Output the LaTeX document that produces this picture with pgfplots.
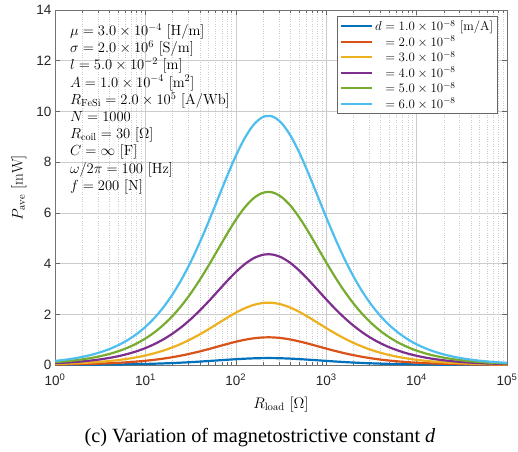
\RequirePackage{fix-cm}
\documentclass[border=0pt]{standalone}
\usepackage{fontspec}
\usepackage{pgfplots}
\usepackage{pgfplotstable}
\pgfplotsset{compat=1.18}
\newfontfamily\tickfont{Liberation Sans}
\newfontfamily\capfont{Liberation Serif}
\definecolor{c1}{rgb}{0,0.447,0.741}
\definecolor{c2}{rgb}{0.85,0.325,0.098}
\definecolor{c3}{rgb}{0.929,0.694,0.125}
\definecolor{c4}{rgb}{0.494,0.184,0.556}
\definecolor{c5}{rgb}{0.466,0.674,0.188}
\definecolor{c6}{rgb}{0.301,0.745,0.933}
\pgfplotstableread{
R d1 d2 d3 d4 d5 d6
1 .0045 .0179 .0403 .0716 .1119 .1611
1.2589 .0056 .0225 .0506 .0899 .1405 .2024
1.5849 .0071 .0282 .0635 .1129 .1765 .2541
1.9953 .0089 .0354 .0797 .1417 .2215 .3189
2.5119 .0111 .0444 .1000 .1777 .2777 .3999
3.1623 .0139 .0557 .1252 .2226 .3479 .5009
3.9811 .0174 .0696 .1567 .2785 .4352 .6267
5.0119 .0217 .0870 .1957 .3479 .5435 .7827
6.3096 .0271 .1084 .2439 .4336 .6775 .9756
7.9433 .0337 .1348 .3033 .5391 .8424 1.2130
10 .0418 .1670 .3759 .6682 1.0441 1.5035
12.589 .0516 .2062 .4640 .8250 1.2890 1.8562
15.849 .0634 .2534 .5702 1.0136 1.5838 2.2806
19.953 .0774 .3095 .6964 1.2380 1.9343 2.7854
25.119 .0938 .3752 .8442 1.5009 2.3451 3.3770
31.623 .1127 .4508 1.0144 1.8034 2.8178 4.0576
39.811 .1340 .5359 1.2057 2.1435 3.3493 4.8229
50.119 .1572 .6287 1.4146 2.5149 3.9294 5.6584
63.096 .1816 .7263 1.6343 2.9054 4.5397 6.5371
79.433 .2061 .8242 1.8544 3.2968 5.1512 7.4177
100 .2291 .9161 2.0614 3.6647 5.7261 8.2455
125.89 .2488 .9951 2.2391 3.9807 6.2198 8.9565
158.49 .2636 1.0540 2.3716 4.2162 6.5878 9.4864
199.53 .2717 1.0867 2.4452 4.3471 6.7923 9.7809
251.19 .2725 1.0897 2.4520 4.3590 6.8110 9.8078
316.23 .2657 1.0627 2.3911 4.2508 6.6419 9.5643
398.11 .2522 1.0085 2.2693 4.0343 6.3035 9.0771
501.19 .2333 .9329 2.0992 3.7319 5.8311 8.3967
630.96 .2108 .8429 1.8967 3.3718 5.2685 7.5867
794.33 .1865 .7457 1.6779 2.9830 4.6609 6.7117
1000 .1619 .6476 1.4572 2.5906 4.0479 5.8289
1258.9 .1384 .5536 1.2456 2.2144 3.4600 4.9824
1584.9 .1167 .4669 1.0504 1.8675 2.9179 4.2018
1995.3 .0973 .3893 .8760 1.5572 2.4332 3.5038
2511.9 .0804 .3216 .7237 1.2865 2.0102 2.8947
3162.3 .0659 .2637 .5933 1.0548 1.6481 2.3733
3981.1 .0537 .2149 .4834 .8594 1.3429 1.9337
5011.9 .0436 .1742 .3919 .6967 1.0886 1.5676
6309.6 .0352 .1406 .3164 .5625 .8789 1.2657
7943.3 .0283 .1132 .2546 .4527 .7073 1.0186
10000 .0227 .0908 .2044 .3633 .5677 .8175
12589 .0182 .0728 .1637 .2910 .4547 .6548
15849 .0145 .0582 .1309 .2327 .3636 .5235
19953 .0116 .0464 .1045 .1858 .2903 .4180
25119 .0093 .0370 .0834 .1482 .2316 .3335
31623 .0074 .0295 .0664 .1181 .1846 .2658
39811 .0059 .0235 .0529 .0941 .1470 .2117
50119 .0047 .0187 .0421 .0749 .1170 .1685
63096 .0037 .0149 .0335 .0596 .0931 .1341
79433 .0030 .0118 .0267 .0474 .0740 .1066
100000 .0024 .0094 .0212 .0377 .0589 .0848
}\datatable
\begin{document}
\begin{tikzpicture}[x=1pt,y=1pt]
\useasboundingbox (0,0) rectangle (518,451);
\begin{axis}[
  at={(55pt,86pt)}, anchor=south west,
  scale only axis, width=452pt, height=355pt,
  xmode=log, xmin=1, xmax=100000, ymin=0, ymax=14,
  xtick={1,10,100,1000,10000,100000},
  xticklabels={10\textsuperscript{0},10\textsuperscript{1},10\textsuperscript{2},10\textsuperscript{3},10\textsuperscript{4},10\textsuperscript{5}},
  ytick={0,2,4,6,8,10,12,14},
  yticklabels={0,2,4,6,8,10,12,14},
  ticklabel style={font=\tickfont\fontsize{13.5}{16}\selectfont, text=black!85},
  xticklabel style={yshift=-5.5pt},
  tick align=inside, major tick length=5pt, minor tick length=3pt,
  tick style={black!60, line width=0.6pt},
  axis line style={black!55, line width=0.8pt},
  grid=major, xminorgrids=true,
  major grid style={black!20, line width=0.6pt},
  minor grid style={black!20, dotted, line width=0.6pt},
  xlabel={$R_{\mathrm{load}}\ [\Omega]$},
  ylabel={$P_{\mathrm{ave}}\ [\mathrm{mW}]$},
  label style={font=\fontsize{15.3}{18}\selectfont},
  xlabel style={at={(axis description cs:0.5,-0.112)}, anchor=center},
  ylabel style={at={(axis description cs:-0.080,0.5)}, anchor=center},
  legend style={at={(0.980,0.982)}, anchor=north east, draw=black!60, line width=0.6pt,
    font=\fontsize{12.9}{15}\selectfont, row sep=-0.5pt, inner xsep=2.5pt, inner ysep=1.5pt,
    cells={anchor=west}},
  legend image code/.code={\draw[#1, line width=2.2pt] (0pt,0pt) -- (31pt,0pt);},
  every axis plot/.append style={line width=2.2pt, smooth},
]
\addplot[c1] table[x=R, y=d1] {\datatable};
\addlegendentry{$d = 1.0\times 10^{-8}\ [\mathrm{m/A}]$}
\addplot[c2] table[x=R, y=d2] {\datatable};
\addlegendentry{$\phantom{d} = 2.0\times 10^{-8}$}
\addplot[c3] table[x=R, y=d3] {\datatable};
\addlegendentry{$\phantom{d} = 3.0\times 10^{-8}$}
\addplot[c4] table[x=R, y=d4] {\datatable};
\addlegendentry{$\phantom{d} = 4.0\times 10^{-8}$}
\addplot[c5] table[x=R, y=d5] {\datatable};
\addlegendentry{$\phantom{d} = 5.0\times 10^{-8}$}
\addplot[c6] table[x=R, y=d6] {\datatable};
\addlegendentry{$\phantom{d} = 6.0\times 10^{-8}$}
\node[anchor=north west, align=left, inner sep=0pt, font=\fontsize{14.6}{17.2}\selectfont]
  at (axis description cs:0.033,0.962) {%
  $\mu = 3.0\times 10^{-4}\ [\mathrm{H/m}]$\\
  $\sigma = 2.0\times 10^{6}\ [\mathrm{S/m}]$\\
  $l = 5.0\times 10^{-2}\ [\mathrm{m}]$\\
  $A = 1.0\times 10^{-4}\ [\mathrm{m}^2]$\\
  $R_{\mathrm{FeSi}} = 2.0\times 10^{5}\ [\mathrm{A/Wb}]$\\
  $N = 1000$\\
  $R_{\mathrm{coil}} = 30\ [\Omega]$\\
  $C = \infty\ [\mathrm{F}]$\\
  $\omega/2\pi = 100\ [\mathrm{Hz}]$\\
  $f = 200\ [\mathrm{N}]$};
\end{axis}
\node[font=\capfont\fontsize{20.2}{24}\selectfont] at (260,13) {(c) Variation of magnetostrictive constant \textit{d}};
\end{tikzpicture}
\end{document}
